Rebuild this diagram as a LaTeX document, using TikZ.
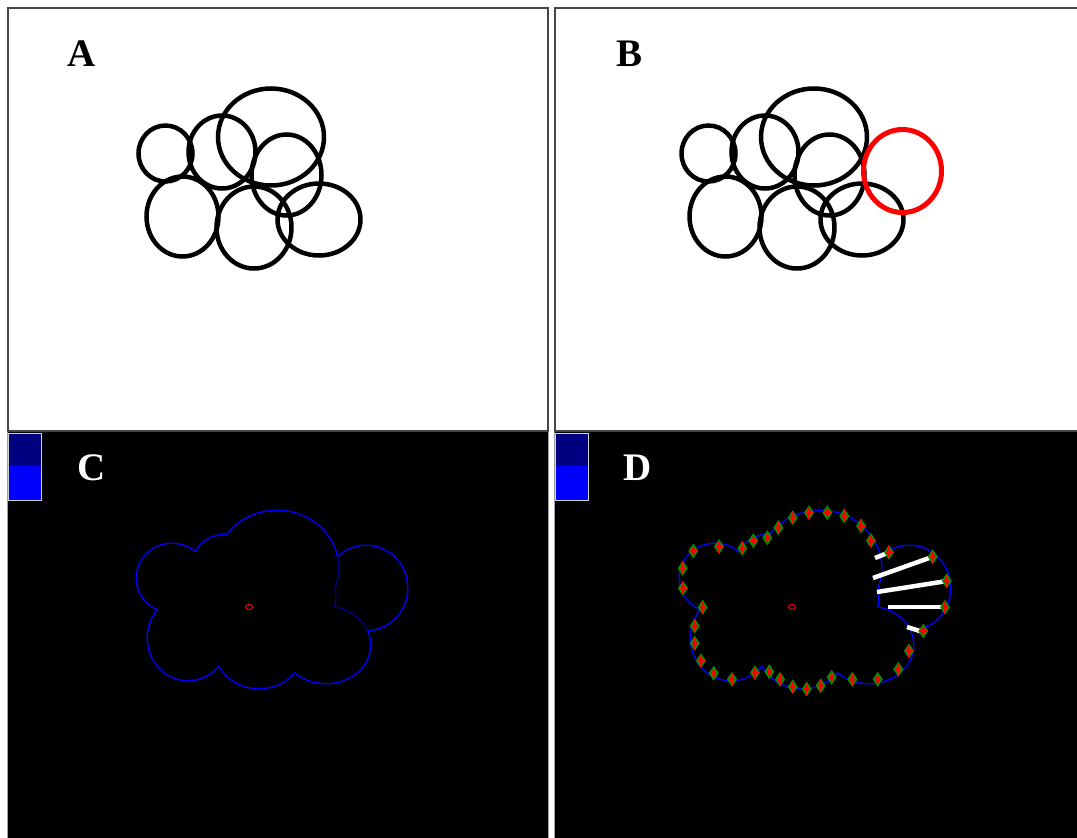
\documentclass[tikz,border=0pt]{standalone}
\usepackage{fontspec}
\setmainfont{Liberation Serif}
\definecolor{navyc}{RGB}{0,0,128}
\definecolor{bluec}{RGB}{0,0,255}
\definecolor{redc}{RGB}{255,0,0}
\definecolor{greenc}{RGB}{0,150,0}
\definecolor{bordc}{RGB}{70,70,70}
\definecolor{sepc}{RGB}{160,160,160}
\def\circlesA{165.5/153.5/27/28, 222/152/33.5/36.5, 271/137/53/48.5, 286.5/175/35/40.5, 182.5/216.5/36/40, 254/227.5/37.5/41, 319/219.5/41.5/36}
\def\cloudseven{172/578/35/34, 225/573/35/38, 277/568/61/57, 295/597/40/42, 188/638/40/42, 259/648/44/40, 326/645/44/38}
\def\redC{366/588/41/42}
\begin{document}
\begin{tikzpicture}[x=1pt,y=-1pt,
  bord/.style={draw=bordc,line width=1.6pt},
  sep/.style={draw=sepc,line width=1pt},
  circ/.style={draw=black,line width=4.5pt},
  lab/.style={anchor=base,inner sep=0pt,font=\fontsize{39}{39}\selectfont\bfseries},
  hatch/.style={draw=white,line width=4.5pt},
  pics/dmd/.style={code={
    \fill[greenc] (0,-7.5) -- (5,0) -- (0,7.5) -- (-5,0) -- cycle;
    \fill[redc] (0,-5) -- (2.6,0) -- (0,5) -- (-2.6,0) -- cycle;
    \draw[redc,line width=1.3pt] (0,-6) -- (0,6) (-3.5,0) -- (3.5,0);
  }}]
\useasboundingbox (0,0) rectangle (1077,838);
\fill[white] (0,0) rectangle (1077,838);

% ---------- panel frames ----------
\fill[black] (8,432) rectangle (548,838);
\fill[black] (555,432) rectangle (1077,838);
\draw[bord] (8,8) rectangle (548,431);
\draw[bord] (1080,8) -- (555,8) -- (555,431) -- (1080,431);
\draw[sep] (7.5,432) -- (7.5,838);
\draw[sep] (548.5,432) -- (548.5,838);
\draw[sep] (554.5,432) -- (554.5,838);

% ---------- colour keys ----------
\fill[navyc] (8,433) rectangle (41,466);
\fill[bluec] (8,466) rectangle (41,500);
\draw[gray!35,line width=1pt] (8,433) rectangle (41,500);
\fill[navyc] (555,433) rectangle (588,466);
\fill[bluec] (555,466) rectangle (588,500);
\draw[gray!35,line width=1pt] (555,433) rectangle (588,500);

% ---------- labels ----------
\node[lab,text=black] (labA) at (82,66) {A};
\node[lab,text=black] (labB) at (630,66) {B};
\node[lab,text=white] (labC) at (92,480) {C};
\node[lab,text=white] (labD) at (638,480) {D};

% ---------- panel A ----------
\foreach \x/\y/\a/\b in \circlesA
  \draw[circ] (\x,\y) ellipse [x radius=\a pt, y radius=\b pt];

% ---------- panel B ----------
\begin{scope}[shift={(543,0)}]
\foreach \x/\y/\a/\b in \circlesA
  \draw[circ] (\x,\y) ellipse [x radius=\a pt, y radius=\b pt];
\end{scope}
\draw[draw=redc,line width=5pt] (902.5,171) ellipse [x radius=39pt, y radius=41.5pt];

% ---------- panels C and D (cloud outline) ----------
\foreach \sx/\inner in {0/navyc,543/bluec} {
\begin{scope}[shift={(\sx,0)}]
  \foreach \x/\y/\a/\b in \cloudseven
    \draw[bluec,line width=3pt] (\x,\y) ellipse [x radius=\a pt, y radius=\b pt];
  \foreach \x/\y/\a/\b in \redC
    \draw[bluec,line width=3pt] (\x,\y) ellipse [x radius=\a pt, y radius=\b pt];
  \foreach \x/\y/\a/\b in \cloudseven
    \fill[black] (\x,\y) ellipse [x radius=\a pt, y radius=\b pt];
  \foreach \x/\y/\a/\b in \redC
    \fill[black] (\x,\y) ellipse [x radius=\a pt, y radius=\b pt];
  \fill[black] (172,578) -- (225,573) -- (277,568) -- (295,597) -- (326,645)
    -- (259,648) -- (188,638) -- cycle;
  \begin{scope}
    \clip (366,588) ellipse [x radius=41pt, y radius=42pt];
    \foreach \x/\y/\a/\b in \cloudseven
      \draw[\inner,line width=3pt] (\x,\y) ellipse [x radius=\a pt, y radius=\b pt];
    \foreach \x/\y/\a/\b in \cloudseven
      \fill[black] (\x,\y) ellipse [x radius=\a pt, y radius=\b pt];
  \end{scope}
  \draw[redc,line width=1pt] (249,607) ellipse [x radius=3.5pt, y radius=2.5pt];
\end{scope}
}

% ---------- panel D extras ----------
\draw[hatch] (875,558) -- (890,552);
\draw[hatch] (873,578) -- (932,557);
\draw[hatch] (877,592) -- (947,581);
\draw[hatch] (888,607) -- (945,607);
\draw[hatch] (907,627) -- (923,632);

\foreach \x/\y in {693.3/551, 719/546.7, 742.3/548.3, 753.3/540.7, 767.3/537.7,
  778.3/527.7, 792.7/517.7, 809/512.7, 827.3/512.7, 844.3/516, 861/526,
  871/540.7, 889/552.3, 932.7/556.7, 946.7/580.7, 945/607.3, 923.3/631,
  909/651, 898.3/669.3, 877.7/679.3, 852.3/679.3, 831.7/677.3, 820.7/685.7,
  806.7/689, 792.7/686.7, 780/679.3, 769.3/671.7, 755/672.7, 732/679.3,
  713.7/673.3, 701/660.7, 694.7/643.3, 694.7/626, 702.7/607.3, 683/588.3,
  682.7/568.3}
  \pic at (\x,\y) {dmd};
\end{tikzpicture}
\end{document}
